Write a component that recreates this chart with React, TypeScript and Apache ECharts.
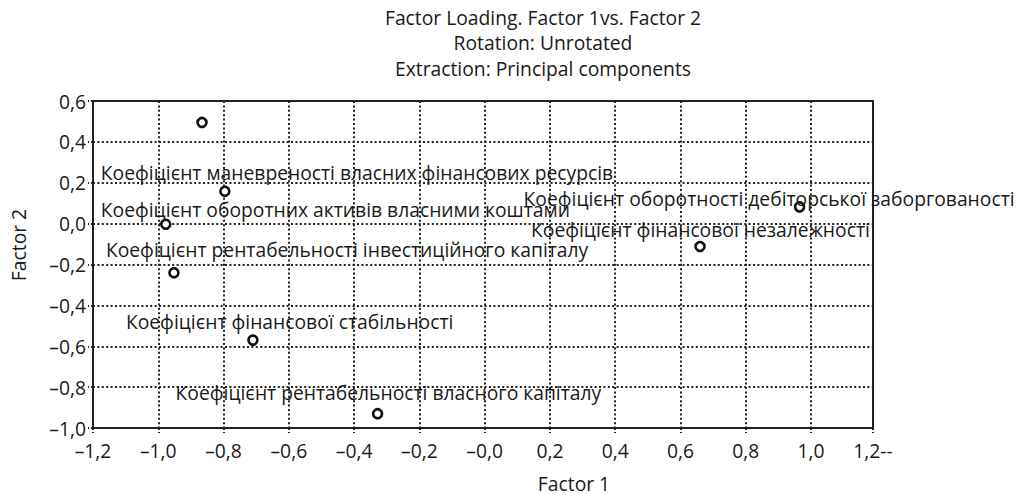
import React, { useEffect, useRef } from "react";
import * as echarts from "echarts";

const titleLines = [
  "Factor Loading. Factor 1vs. Factor 2",
  "Rotation: Unrotated",
  "Extraction: Principal components",
];
const xAxisName = "Factor 1";
const yAxisName = "Factor 2";

const variableNames = [
  "",
  "Коефіцієнт маневреності власних фінансових ресурсів",
  "Коефіцієнт оборотних активів власними коштами",
  "Коефіцієнт рентабельності інвестиційного капіталу",
  "Коефіцієнт фінансової стабільності",
  "Коефіцієнт рентабельності власного капіталу",
  "Коефіцієнт фінансової незалежності",
  "Коефіцієнт оборотності дебіторської заборгованості",
];
const factor1 = [-0.866, -0.796, -0.977, -0.952, -0.71, -0.328, 0.66, 0.965];
const factor2 = [0.495, 0.158, -0.003, -0.24, -0.57, -0.93, -0.112, 0.082];

// label placement relative to each point (px): left edge offset, vertical offset
const labelDx = [0, -124, -65, -68, -127, -202, -169, -276];
const labelDy = [0, -19, -15, -23, -19, -21, -17, -8];

const FONT = "Open Sans";
const FS = 19.3;
const TEXT = "#1a1a1a";

function fmt(v: number, isX: boolean) {
  const r = Math.round(v * 10) / 10;
  if (isX && Math.abs(r - 1.2) < 1e-9) return "1,2--";
  const s = Math.abs(r).toFixed(1).replace(".", ",");
  if (isX && Math.abs(r) < 1e-9) return "–0,0";
  return r < -1e-9 ? "–" + s : s;
}

export default function App() {
  const ref = useRef<HTMLDivElement>(null);
  useEffect(() => {
    const chart = echarts.init(ref.current!, undefined, { renderer: "svg" });
    const data = factor1.map((x, i) => ({
      value: [x, factor2[i]],
      name: variableNames[i],
    }));
    const gridLine = { color: "#222", width: 2, type: [2, 2.4] as any };
    chart.setOption({
      animation: false,
      backgroundColor: "#fff",
      textStyle: { fontFamily: FONT },
      grid: {
        left: 93,
        right: 144,
        top: 101,
        bottom: 67,
        show: true,
        borderColor: "#222",
        borderWidth: 2,
        backgroundColor: "transparent",
      },
      xAxis: {
        type: "value",
        min: -1.2,
        max: 1.19,
        interval: 0.2,
        axisLine: { show: true, onZero: false, lineStyle: { color: "#222", width: 2 } },
        axisTick: { show: true, inside: false, length: 5, lineStyle: { color: "#222", width: 2, type: [2, 2] as any } },
        splitLine: { show: true, lineStyle: gridLine },
        axisLabel: {
          color: TEXT,
          fontFamily: FONT,
          fontSize: FS,
          margin: 13,
          showMaxLabel: true,
          formatter: (v: number) => fmt(v, true),
        },
      },
      yAxis: {
        type: "value",
        min: -1,
        max: 0.6,
        interval: 0.2,
        axisLine: { show: true, onZero: false, lineStyle: { color: "#222", width: 2 } },
        axisTick: { show: true, inside: false, length: 5, lineStyle: { color: "#222", width: 2, type: [2, 2] as any } },
        splitLine: { show: true, lineStyle: gridLine },
        axisLabel: {
          color: TEXT,
          fontFamily: FONT,
          fontSize: FS,
          margin: 7,
          formatter: (v: number) => fmt(v, false),
        },
      },
      series: [
        {
          type: "scatter",
          symbol: "circle",
          symbolSize: 9,
          itemStyle: { color: "#fff", borderColor: "#111", borderWidth: 2.6, opacity: 1 },
          label: {
            show: true,
            position: "inside",
            align: "left",
            verticalAlign: "middle",
            color: TEXT,
            fontFamily: FONT,
            fontSize: FS,
            formatter: (p: any) => p.name,
          },
          labelLayout: (p: any) => ({
            dx: labelDx[p.dataIndex],
            dy: labelDy[p.dataIndex],
            hideOverlap: false,
          }),
          emphasis: { disabled: true },
          data,
          z: 5,
        },
      ],
      graphic: [
        ...titleLines.map((t, i) => ({
          type: "text",
          x: 543,
          y: 17 + i * 25.5,
          style: {
            text: t,
            textAlign: "center",
            textVerticalAlign: "middle",
            fill: TEXT,
            font: `${FS}px "${FONT}"`,
          },
        })),
        {
          type: "text",
          x: 574,
          y: 483,
          style: {
            text: xAxisName,
            textAlign: "center",
            textVerticalAlign: "middle",
            fill: TEXT,
            font: `${FS}px "${FONT}"`,
          },
        },
        {
          type: "text",
          x: 18,
          y: 245,
          rotation: Math.PI / 2,
          style: {
            text: yAxisName,
            textAlign: "center",
            textVerticalAlign: "middle",
            fill: TEXT,
            font: `${FS}px "${FONT}"`,
          },
        },
      ],
    });
    return () => chart.dispose();
  }, []);
  return (
    <div
      ref={ref}
      style={{ position: "absolute", left: 0, top: 0, width: 1017, height: 495 }}
    />
  );
}
